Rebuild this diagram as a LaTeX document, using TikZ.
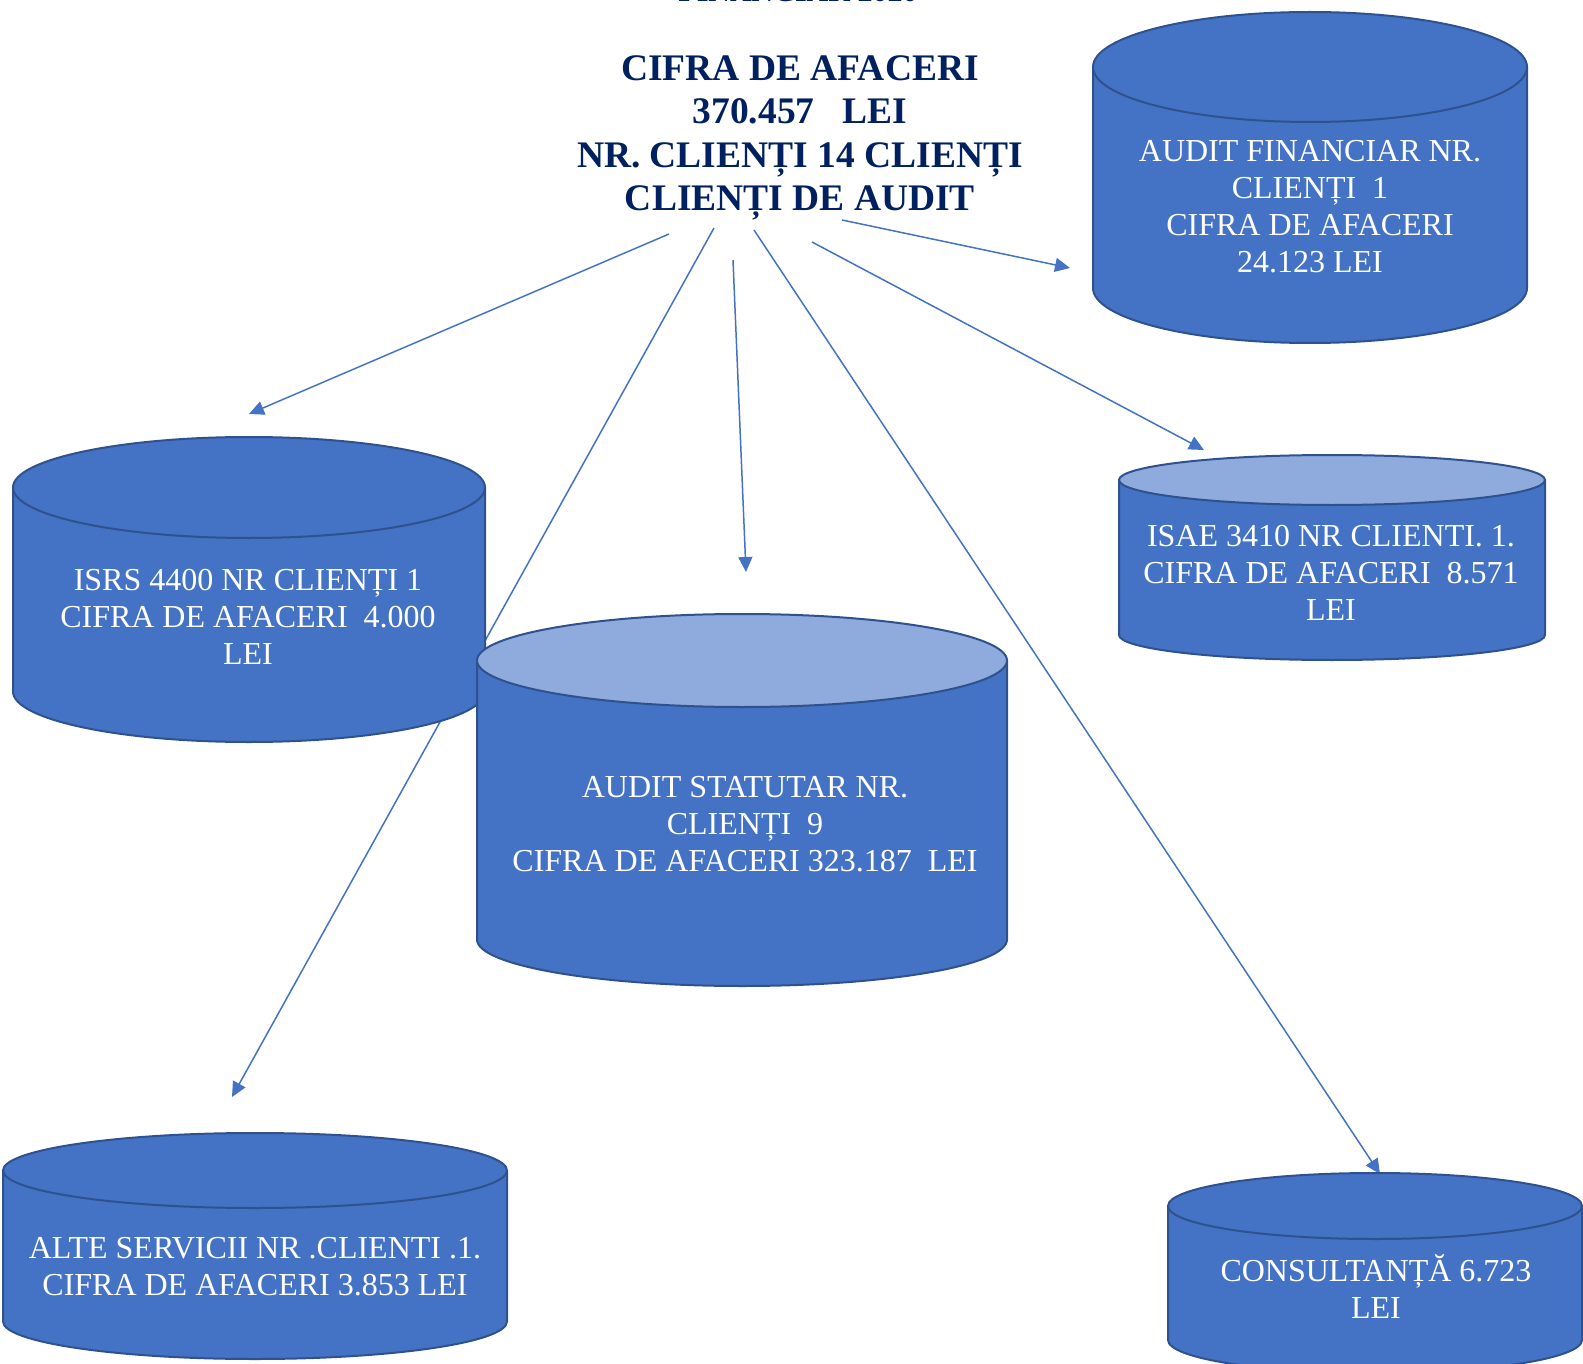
\documentclass[tikz,border=0pt]{standalone}
\usepackage{fontspec}
\setmainfont{Liberation Serif}
\usetikzlibrary{arrows.meta}
\definecolor{drumblue}{HTML}{4472C4}
\definecolor{drumline}{HTML}{2F528F}
\definecolor{drumtop}{HTML}{8FAADC}
\definecolor{titleblue}{HTML}{002060}

\begin{document}
\begin{tikzpicture}[x=1pt,y=-1pt,
		pics/drum/.style n args={4}{code={
				\path[fill=drumblue] (-#1,{-#2+#3}) -- (-#1,{#2-#3}) arc[start angle=180, end angle=0, x radius=#1, y radius=#3] -- (#1,{-#2+#3}) -- cycle;
				\draw[drumline, line width=2pt, line join=round] (-#1,{-#2+#3}) -- (-#1,{#2-#3}) arc[start angle=180, end angle=0, x radius=#1, y radius=#3] -- (#1,{-#2+#3});
				\draw[drumline, line width=2pt, fill=#4] (0,{-#2+#3}) ellipse[x radius=#1, y radius=#3];
			}},
		txt/.style={text=white, align=center, font=\fontsize{32}{37}\selectfont},
		link/.style={draw=drumblue, line width=1.5pt, -{Triangle[length=15pt,width=14pt]}}
		]
		\path[use as bounding box] (0,0) rectangle (1583,1364);
		\clip (0,0) rectangle (1583,1364);
		% title
		\node[font=\bfseries\fontsize{30}{36}\selectfont, text=titleblue, anchor=base] (year) at (798,2) {FINANCIAR 2020};
		\node[font=\bfseries\fontsize{37.5}{43.5}\selectfont, text=titleblue, align=center] (title) at (800,138) {CIFRA DE AFACERI\\370.457\ \ \ LEI\\NR. CLIENȚI 14 CLIENȚI\\CLIENȚI DE AUDIT};
		% arrow ends
		\coordinate (s1) at (669,234);
		\coordinate (s2) at (714,228);
		\coordinate (s3) at (733,260);
		\coordinate (s4) at (754,230);
		\coordinate (s5) at (812,242);
		\coordinate (s6) at (842,220);
		\coordinate (e1) at (249,414);
		\coordinate (e2) at (232,1097);
		\coordinate (e3) at (746,572);
		\coordinate (e4) at (1380,1174);
		\coordinate (e5) at (1204,450);
		\coordinate (e6) at (1070,268);
		\draw[link] (s1) -- (e1);
		\draw[link] (s2) -- (e2);
		\draw[link] (s3) -- (e3);
		\draw[link] (s4) -- (e4);
		\draw[link] (s5) -- (e5);
		\draw[link] (s6) -- (e6);
		% cylinders
		\pic (fin) at (1310,177.5) {drum={217}{165.5}{55}{drumblue}};
		\node[txt] (fintxt) at (1310,207) {AUDIT FINANCIAR NR.\\CLIENȚI\ \ 1\\CIFRA DE AFACERI\\24.123 LEI};
		\pic (isrs) at (249,589.5) {drum={236}{152.5}{50.5}{drumblue}};
		\node[txt] (isrstxt) at (248,617) {ISRS 4400 NR CLIENȚI 1\\CIFRA DE AFACERI\ \ 4.000\\LEI};
		\pic (statutar) at (742,800) {drum={265}{186}{46.5}{drumtop}};
		\node[txt] (statutartxt) at (745,824) {AUDIT STATUTAR NR.\\CLIENȚI\ \ 9\\CIFRA DE AFACERI 323.187\ \ LEI};
		\pic (isae) at (1332,557.5) {drum={213}{102.5}{25}{drumtop}};
		\node[txt] (isaetxt) at (1331,573) {ISAE 3410 NR CLIENTI. 1.\\CIFRA DE AFACERI\ \ 8.571\\LEI};
		\pic (alte) at (255,1246) {drum={252}{113}{37.5}{drumblue}};
		\node[txt] (altetxt) at (255,1267) {ALTE SERVICII NR .CLIENTI .1.\\CIFRA DE AFACERI 3.853 LEI};
		\pic (consult) at (1375,1273) {drum={207}{100}{33}{drumblue}};
		\node[txt] (consulttxt) at (1376,1286) {CONSULTANȚĂ 6.723\\LEI};
\end{tikzpicture}
\end{document}
